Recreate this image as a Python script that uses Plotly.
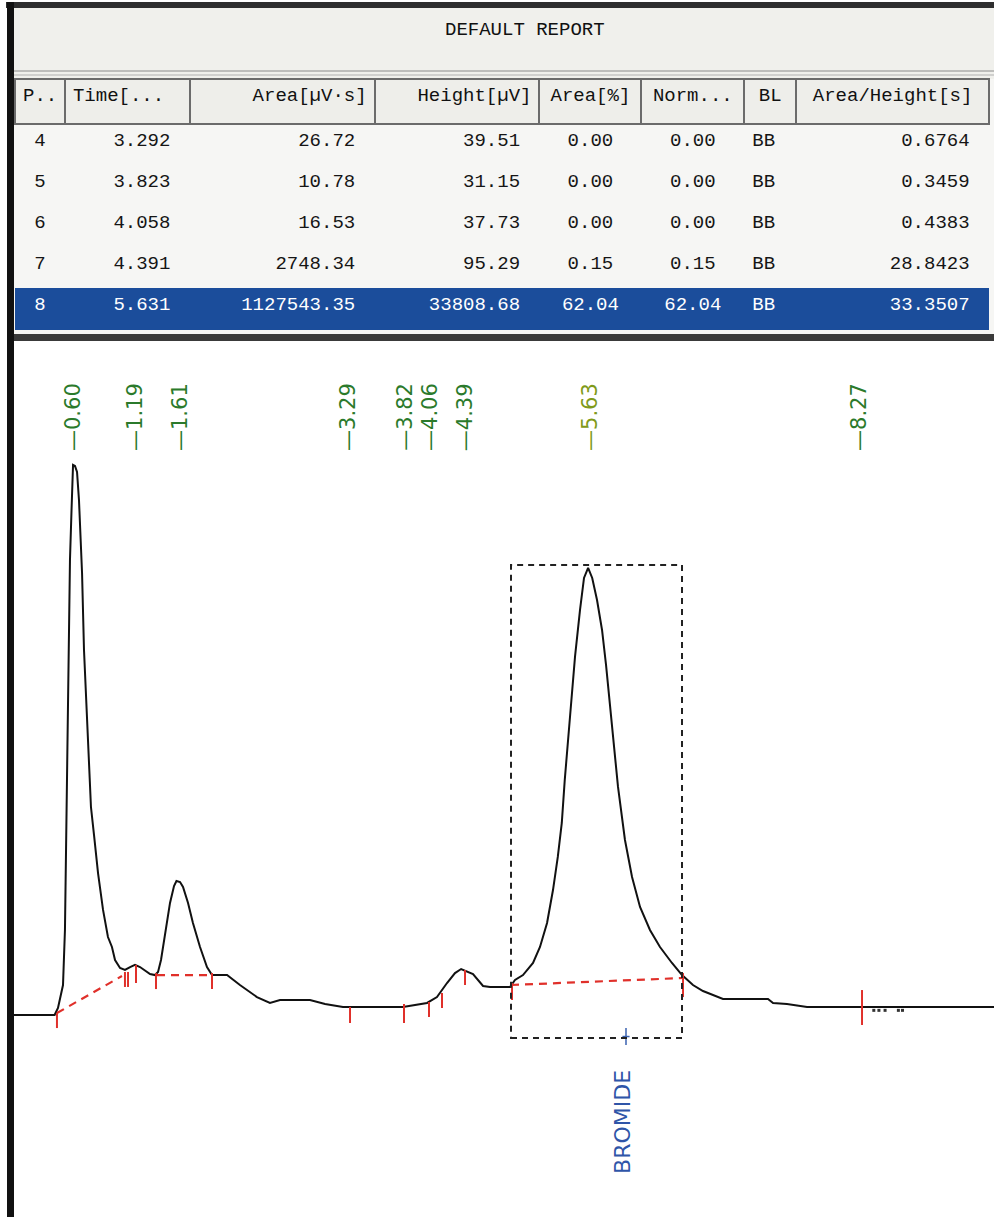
import plotly.graph_objects as go

# ---------------- data ----------------
# report table
peak_no = [4, 5, 6, 7, 8]
ret_time = [3.292, 3.823, 4.058, 4.391, 5.631]
area = [26.72, 10.78, 16.53, 2748.34, 1127543.35]
height = [39.51, 31.15, 37.73, 95.29, 33808.68]
area_pct = [0.00, 0.00, 0.00, 0.15, 62.04]
norm_pct = [0.00, 0.00, 0.00, 0.15, 62.04]
baseline_code = ["BB", "BB", "BB", "BB", "BB"]
area_height = [0.6764, 0.3459, 0.4383, 28.8423, 33.3507]
headers = ["P..", "Time[...", "Area[\u00b5V\u00b7s]", "Height[\u00b5V]", "Area[%]",
           "Norm...", "BL", "Area/Height[s]"]
report_title = "DEFAULT REPORT"
selected_row = 4

# chromatogram trace (time in min, signal in mV)
trace_t = [0.00, 0.42, 0.453, 0.482, 0.502, 0.521, 0.531, 0.541, 0.551, 0.570,
           0.585, 0.594, 0.600, 0.619, 0.639, 0.658, 0.688, 0.707, 0.736, 0.756,
           0.775, 0.805, 0.824, 0.844, 0.893, 0.941, 0.980, 1.010, 1.059, 1.107,
           1.157, 1.205, 1.254, 1.303, 1.352, 1.400, 1.430, 1.459, 1.498, 1.547,
           1.586, 1.610, 1.645, 1.674, 1.723, 1.771, 1.840, 1.908, 1.957, 2.104,
           2.230, 2.396, 2.523, 2.621, 2.914, 3.061, 3.236, 3.822, 4.057, 4.154,
           4.252, 4.330, 4.390, 4.506, 4.604, 4.672, 4.867, 4.916, 4.994, 5.092,
           5.160, 5.229, 5.287, 5.334, 5.373, 5.402, 5.453, 5.502, 5.551, 5.590,
           5.630, 5.670, 5.717, 5.766, 5.805, 5.863, 5.922, 5.990, 6.059, 6.137,
           6.234, 6.332, 6.449, 6.547, 6.654, 6.752, 6.947, 7.387, 7.436, 7.572,
           7.768, 9.594]
trace_mv = [0.00, 0.00, 0.57, 1.63, 2.44, 6.91, 13.41, 18.29, 25.61, 36.99,
            41.00, 43.90, 44.72, 44.63, 44.15, 41.87, 35.93, 29.67, 24.23, 19.92,
            16.91, 14.63, 13.17, 11.54, 8.54, 6.34, 5.53, 4.47, 3.82, 3.66,
            3.90, 4.07, 3.90, 3.58, 3.33, 3.25, 3.50, 4.47, 6.67, 9.11,
            10.49, 10.89, 10.81, 10.41, 9.11, 7.48, 5.53, 3.90, 3.25, 3.25,
            2.44, 1.46, 0.98, 1.22, 1.22, 0.89, 0.65, 0.65, 0.98, 1.46,
            2.60, 3.41, 3.74, 3.33, 2.36, 2.28, 2.28, 2.85, 3.25, 4.23,
            5.53, 7.48, 10.16, 12.85, 15.61, 19.11, 24.23, 29.11, 32.93, 35.53,
            36.34, 35.53, 33.74, 31.30, 28.46, 23.74, 18.54, 14.23, 11.22, 8.78,
            6.91, 5.53, 4.23, 3.25, 2.44, 1.95, 1.30, 1.30, 0.98, 0.89,
            0.65, 0.65]

# small noise marks after last peak
noise_t = [8.42, 8.47, 8.53, 8.66, 8.70]
noise_mv = [0.38, 0.38, 0.38, 0.38, 0.38]

# peak labels (retention times)
label_times = [0.60, 1.19, 1.61, 3.29, 3.82, 4.06, 4.39, 5.63, 8.27]
label_pos_t = [0.60, 1.205, 1.645, 3.285, 3.84, 4.086, 4.43, 5.648, 8.275]

# integration baselines (start/end)
bl_t0 = [0.443, 1.42, 4.877]
bl_t1 = [1.078, 1.957, 6.557]
bl_s0 = [0.16, 3.25, 2.44]
bl_s1 = [3.17, 3.25, 3.01]

# integration tick marks
tick_t = [0.443, 1.107, 1.137, 1.215, 1.410, 1.957, 3.305, 3.832, 4.076, 4.203,
          4.428, 4.887, 6.557, 8.305]
tick_top = [0.16, 3.50, 3.50, 4.07, 3.41, 3.41, 0.65, 0.89, 1.06, 1.79,
            3.66, 2.60, 3.41, 2.03]
tick_bot = [-1.06, 2.28, 2.28, 2.60, 2.11, 2.11, -0.65, -0.65, -0.16, 0.57,
            2.44, 1.22, 1.46, -0.81]

# identified component window
comp_name = "BROMIDE"
comp_t = 6.00
win_t0, win_t1 = 4.877, 6.547
win_s0, win_s1 = -1.87, 36.59

# ---------------- figure ----------------
W, H = 994, 1217


def px(x):
    return x / W


def py(y):
    return 1 - y / H


fig = go.Figure()

# report table
n = len(peak_no)
row_fill = ["#f6f6f4" if i != selected_row else "#1b4d9b" for i in range(n)]
row_font = ["#151515" if i != selected_row else "#ffffff" for i in range(n)]
pad = "\u00a0"
cells = [
    [str(v) for v in peak_no],
    [f"{v:.3f}" + pad for v in ret_time],
    [f"{v:.2f}" + pad for v in area],
    [f"{v:.2f}" + pad for v in height],
    [f"{v:.2f}" for v in area_pct],
    [f"{v:.2f}" for v in norm_pct],
    baseline_code,
    [f"{v:.4f}" + pad for v in area_height],
]
fig.add_trace(go.Table(
    domain=dict(x=[px(15), px(990)], y=[py(335), py(79)]),
    columnwidth=[50, 125, 185, 165, 102, 103, 52, 193],
    header=dict(
        values=headers,
        align=["left", "left", "right", "right", "center", "center", "center", "center"],
        fill_color="#eeeeea",
        line=dict(color="#6b6b6b", width=2),
        font=dict(family="Liberation Mono", size=19, color="#111111"),
        height=45,
    ),
    cells=dict(
        values=cells,
        align=["center", "right", "right", "right", "center", "center", "left", "right"],
        fill_color=[row_fill] * 8,
        line=dict(color=[row_fill] * 8, width=1),
        font=dict(family="Liberation Mono", size=19, color=[row_font] * 8),
        height=41,
    ),
))

# chromatogram
fig.add_trace(go.Scatter(
    x=trace_t, y=trace_mv, mode="lines",
    line=dict(color="#111111", width=2),
    xaxis="x", yaxis="y", hoverinfo="skip", showlegend=False,
))
fig.add_trace(go.Scatter(
    x=noise_t, y=noise_mv, mode="markers",
    marker=dict(symbol="square", size=3, color="#333333", line=dict(width=0)),
    hoverinfo="skip", showlegend=False,
))

# integration baselines
for a, b, c, d in zip(bl_t0, bl_t1, bl_s0, bl_s1):
    fig.add_trace(go.Scatter(
        x=[a, b], y=[c, d], mode="lines",
        line=dict(color="#e0302a", width=2.2, dash="8px,6px"),
        hoverinfo="skip", showlegend=False,
    ))

# integration ticks
tx, ty = [], []
for t, a, b in zip(tick_t, tick_top, tick_bot):
    tx += [t, t, None]
    ty += [a, b, None]
fig.add_trace(go.Scatter(
    x=tx, y=ty, mode="lines", line=dict(color="#e0302a", width=2),
    hoverinfo="skip", showlegend=False,
))

# component window
fig.add_shape(type="rect", xref="x", yref="y", x0=win_t0, x1=win_t1, y0=win_s0, y1=win_s1,
              line=dict(color="#222222", width=2, dash="6px,5px"))

# component marker
fig.add_trace(go.Scatter(
    x=[comp_t, comp_t, None, comp_t - 0.035, comp_t + 0.035],
    y=[-1.06, -2.44, None, -1.75, -1.75], mode="lines",
    line=dict(color="#3a62b0", width=1.5), hoverinfo="skip", showlegend=False,
))
fig.add_annotation(x=comp_t - 0.04, y=-8.7, xref="x", yref="y", text=comp_name,
                   textangle=-90, showarrow=False,
                   font=dict(family="DejaVu Sans", size=22, color="#2f55a8"))

# peak labels
for lt, pt in zip(label_times, label_pos_t):
    col = "#7f9a1a" if abs(lt - 5.63) < 1e-6 else "#2b7a2b"
    fig.add_annotation(x=pt, y=45.69, xref="x", yref="y", text="\u2014" + f"{lt:.2f}",
                       textangle=-90, showarrow=False, yanchor="bottom", xanchor="center",
                       font=dict(family="DejaVu Sans", size=21, color=col))

# title of report
fig.add_annotation(x=px(525), y=py(30), xref="paper", yref="paper", text=report_title,
                   showarrow=False, xanchor="center", yanchor="middle",
                   font=dict(family="Liberation Mono", size=19, color="#111111"))

# frame decorations
shapes = [
    dict(type="rect", x0=px(14), x1=1, y0=py(79), y1=py(6), fillcolor="#f0f0ec", line_width=0, layer="below"),
    dict(type="rect", x0=px(14), x1=1, y0=py(341), y1=py(79), fillcolor="#f6f6f4", line_width=0, layer="below"),
    dict(type="line", x0=px(14), x1=1, y0=py(71), y1=py(71), line=dict(color="#8a8a8a", width=1)),
    dict(type="line", x0=px(14), x1=1, y0=py(75), y1=py(75), line=dict(color="#b0b0b0", width=1)),
    dict(type="rect", x0=px(6), x1=1, y0=py(8), y1=py(2), fillcolor="#2e2e2e", line_width=0),
    dict(type="rect", x0=px(14), x1=1, y0=py(341), y1=py(334), fillcolor="#3a3a3a", line_width=0),
    dict(type="rect", x0=px(7), x1=px(14), y0=0, y1=py(2), fillcolor="#111111", line_width=0),
]
for s in shapes:
    fig.add_shape(xref="paper", yref="paper", **s)

fig.update_layout(
    width=W, height=H,
    margin=dict(l=0, r=0, t=0, b=0),
    paper_bgcolor="#ffffff", plot_bgcolor="#ffffff",
    showlegend=False,
    xaxis=dict(domain=[0, 1], range=[-0.1133, 9.5938], visible=False, fixedrange=True),
    yaxis=dict(domain=[0, py(343)], range=[-16.42, 54.63], visible=False, fixedrange=True),
)

fig.write_html("out.html", config={"displayModeBar": False},
               post_script="document.body.style.margin='0';document.body.style.overflow='hidden';")
